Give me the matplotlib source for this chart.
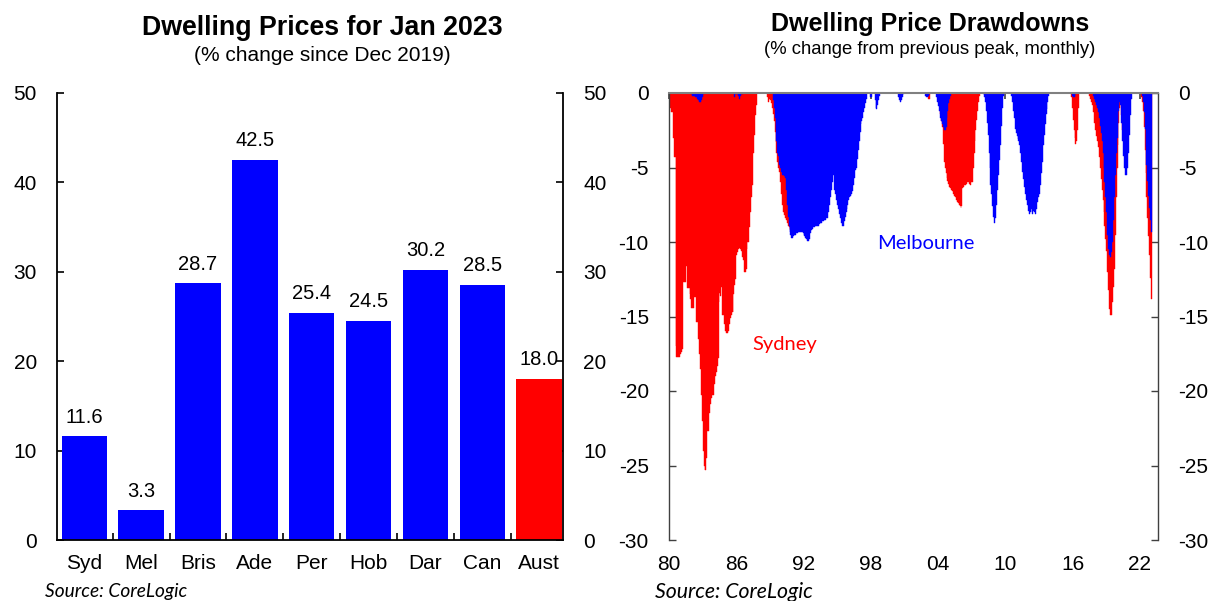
import numpy as np
import matplotlib
matplotlib.use("Agg")
import matplotlib.pyplot as plt
from matplotlib.ticker import FixedLocator

plt.rcParams["axes.unicode_minus"] = False

# ---------------- Left chart data ----------------
cities = ["Syd", "Mel", "Bris", "Ade", "Per", "Hob", "Dar", "Can", "Aust"]
price_change = [11.6, 3.3, 28.7, 42.5, 25.4, 24.5, 30.2, 28.5, 18.0]
bar_colors = ["#0000FF"] * 8 + ["#FF0000"]

# ---------------- Right chart data (monthly drawdowns, % from previous peak) ----------------
start_year = 1980
sydney_by_year = [
    [-0.5, -1.0, -1.3, -1.3, -3.0, -4.3, -4.3, -17.0, -17.7, -17.7, -17.7, -17.7],   # 1980
    [-17.5, -17.4, -17.2, -12.7, -12.7, -12.7, -11.6, -13.1, -13.1, -13.1, -13.5, -13.8],  # 1981
    [-14.4, -14.4, -14.4, -13.7, -13.7, -15.4, -15.4, -16.5, -17.5, -18.5, -20.3, -22.0],  # 1982
    [-24.0, -25.0, -25.3, -25.3, -24.5, -22.7, -22.7, -21.5, -20.9, -20.5, -20.3, -20.3],  # 1983
    [-19.5, -19.0, -18.7, -18.3, -17.8, -14.0, -13.4, -13.6, -13.0, -14.9, -14.9, -15.5],  # 1984
    [-16.0, -16.1, -16.1, -16.0, -15.5, -15.1, -14.9, -14.7, -14.7, -13.5, -12.9, -12.5],  # 1985
    [-10.9, -10.7, -10.5, -10.4, -10.5, -10.6, -11.0, -11.2, -12.0, -12.0, -11.8, -10.5],  # 1986
    [-10.0, -10.0, -9.0, -8.0, -7.0, -6.2, -4.0, -2.8, -1.5, -0.8, 0, 0],               # 1987
    [0, 0, 0, 0, 0, 0, 0, 0, 0, -0.3, -0.6, -0.4],                                      # 1988
    [-0.5, -0.7, -1.0, -1.4, -1.9, -2.6, -3.3, -4.0, -4.6, -5.0, -5.3, -6.0],           # 1989
    [-6.8, -7.5, -8.0, -8.2, -8.4, -8.5, -8.7, -8.9, -9.0, -9.1, -9.2, -9.3],           # 1990
    [-9.2, -9.0, -8.9, -8.8, -8.7, -8.6, -8.5, -8.4, -8.3, -8.2, -8.1, -8.0],           # 1991
    [-7.9, -7.8, -7.7, -7.6, -7.5, -7.4, -7.3, -7.2, -7.1, -7.0, -6.9, -6.8],           # 1992
    [-6.6, -6.4, -6.2, -6.0, -5.7, -5.4, -5.1, -4.8, -4.5, -4.2, -3.9, -3.6],           # 1993
    [-3.3, -3.0, -2.7, -2.4, -2.1, -1.8, -1.5, -1.2, -0.9, -0.6, -0.3, 0],              # 1994
    [0] * 12,                                                                           # 1995
    [0] * 12,                                                                           # 1996
    [0] * 12,                                                                           # 1997
    [0] * 12,                                                                           # 1998
    [0] * 12,                                                                           # 1999
    [0] * 12,                                                                           # 2000
    [0] * 12,                                                                           # 2001
    [0] * 12,                                                                           # 2002
    [0, -0.4, -0.4, 0, 0, 0, 0, 0, 0, 0, 0, -0.2],                                      # 2003
    [-0.5, -0.9, -1.4, -1.9, -2.3, -3.4, -4.6, -5.0, -5.4, -5.7, -5.9, -6.1],           # 2004
    [-6.3, -6.4, -6.5, -6.6, -6.8, -6.9, -7.0, -7.2, -7.3, -7.4, -7.5, -7.6],           # 2005
    [-7.7, -7.6, -6.4, -6.3, -6.2, -6.2, -6.1, -6.0, -6.0, -6.1, -6.2, -6.0],           # 2006
    [-6.0, -5.0, -4.0, -3.2, -2.5, -1.8, -1.2, -0.6, -0.2, 0, 0, 0],                   # 2007
    [0, 0, -0.3, -0.6, -1.0, -1.6, -2.2, -2.8, -3.4, -3.8, -4.0, -4.0],                # 2008
    [-3.8, -3.4, -2.8, -2.0, -1.2, -0.5, 0, 0, 0, 0, 0, 0],                            # 2009
    [0, 0, 0, 0, 0, 0, 0, 0, 0, 0, -0.3, -0.6],                                         # 2010
    [-0.9, -1.2, -1.5, -1.8, -2.0, -2.3, -2.6, -2.9, -3.2, -3.5, -3.8, -4.0],           # 2011
    [-4.1, -4.2, -4.0, -4.0, -4.2, -4.0, -3.5, -3.0, -2.6, -2.2, -1.6, -1.0],           # 2012
    [-0.6, -0.2, 0, 0, 0, 0, 0, 0, 0, 0, 0, 0],                                         # 2013
    [0] * 12,                                                                           # 2014
    [0, 0, 0, 0, 0, 0, 0, 0, 0, 0, -0.3, -1.0],                                         # 2015
    [-1.8, -2.5, -3.0, -3.4, -3.2, -2.5, -1.0, 0, 0, 0, 0, 0],                          # 2016
    [0, 0, 0, 0, 0, 0, -0.2, -0.4, -0.6, -0.8, -1.3, -2.0],                             # 2017
    [-2.5, -2.9, -3.2, -3.6, -4.3, -5.0, -5.8, -6.5, -7.2, -8.0, -8.9, -9.8],           # 2018
    [-10.6, -12.0, -13.2, -14.5, -14.9, -14.9, -14.0, -13.0, -11.8, -9.5, -7.0, -5.0],  # 2019
    [-3.5, -2.0, -1.0, -0.6, -1.5, -2.5, -3.0, -3.3, -3.3, -3.0, -2.0, -1.0],           # 2020
    [-0.3, 0, 0, 0, 0, 0, 0, 0, 0, 0, 0, 0],                                            # 2021
    [0, -0.3, -0.6, -1.2, -2.3, -3.8, -5.4, -7.0, -8.4, -9.6, -10.9, -12.4],            # 2022
    [-13.8],                                                                            # 2023
]
melbourne_by_year = [
    [0] * 12,                                                                           # 1980
    [0] * 12,                                                                           # 1981
    [-0.1, -0.2, -0.2, -0.2, -0.3, -0.3, -0.4, -0.5, -0.6, -0.6, -0.5, -0.3],           # 1982
    [-0.1, 0, 0, 0, 0, 0, 0, 0, 0, 0, 0, 0],                                            # 1983
    [0] * 12,                                                                           # 1984
    [0, 0, 0, 0, 0, 0, 0, 0, 0, 0, -0.3, -0.1],                                         # 1985
    [-0.1, -0.1, -0.2, -0.4, -0.2, -0.1, -0.1, 0, 0, 0, 0, 0],                          # 1986
    [0] * 12,                                                                           # 1987
    [0] * 12,                                                                           # 1988
    [0, 0, 0, -0.5, -1.0, -1.7, -2.5, -3.2, -4.0, -4.2, -4.8, -5.0],                    # 1989
    [-5.3, -5.5, -5.5, -5.6, -5.7, -6.5, -7.5, -8.3, -8.9, -9.3, -9.5, -9.7],           # 1990
    [-9.7, -9.6, -9.5, -9.5, -9.4, -9.4, -9.3, -9.3, -9.3, -9.3, -9.3, -9.4],           # 1991
    [-9.5, -9.6, -9.7, -9.8, -9.9, -9.9, -9.8, -9.4, -9.2, -9.1, -9.0, -9.0],           # 1992
    [-8.9, -8.9, -8.9, -8.9, -8.8, -8.8, -8.7, -8.7, -8.6, -8.6, -8.5, -8.5],           # 1993
    [-8.4, -8.4, -8.0, -7.5, -7.0, -6.5, -6.0, -5.5, -5.5, -6.5, -6.8, -7.2],           # 1994
    [-7.5, -7.8, -8.1, -8.4, -8.7, -8.9, -8.9, -8.6, -8.3, -8.0, -7.8, -7.5],           # 1995
    [-7.2, -7.0, -6.9, -6.8, -6.6, -6.2, -5.7, -5.2, -5.0, -4.4, -3.8, -3.2],           # 1996
    [-2.6, -2.1, -1.9, -1.7, -1.3, -1.0, -0.7, -0.4, 0, 0, 0, -0.3],                    # 1997
    [-0.3, 0, 0, 0, -0.5, -1.0, -1.1, -0.8, -0.5, -0.2, 0, 0],                          # 1998
    [0] * 12,                                                                           # 1999
    [0, 0, 0, 0, 0, -0.3, -0.5, -0.6, -0.5, -0.3, -0.1, 0],                             # 2000
    [0] * 12,                                                                           # 2001
    [0, 0, 0, 0, 0, 0, 0, 0, 0, 0, -0.2, -0.3],                                         # 2002
    [-0.3, -0.2, -0.1, 0, 0, 0, 0, 0, 0, 0, -0.3, -0.6],                                # 2003
    [-0.9, -1.2, -1.7, -1.9, -2.1, -2.3, -2.5, -2.5, -2.3, -1.7, -1.2, -0.7],           # 2004
    [-0.4, -0.2, 0, 0, 0, 0, 0, 0, 0, 0, 0, 0],                                         # 2005
    [0] * 12,                                                                           # 2006
    [0] * 12,                                                                           # 2007
    [-0.1, -0.3, -0.6, -1.2, -2.0, -2.8, -4.0, -5.0, -6.2, -6.8, -7.6, -8.3],           # 2008
    [-8.7, -8.4, -7.5, -6.5, -5.5, -4.5, -3.5, -2.2, -1.0, -0.2, 0, 0],                 # 2009
    [0, 0, 0, 0, 0, 0, -0.2, -0.6, -1.2, -1.7, -2.4, -2.7],                             # 2010
    [-2.9, -3.1, -3.2, -3.5, -4.0, -4.6, -5.3, -5.8, -6.3, -6.8, -7.2, -7.5],           # 2011
    [-7.9, -8.1, -8.0, -7.8, -8.0, -8.1, -7.9, -8.0, -8.1, -7.8, -7.3, -7.0],           # 2012
    [-6.8, -6.2, -5.4, -4.6, -3.5, -2.8, -2.1, -1.4, -1.1, -0.6, -0.2, 0],              # 2013
    [0] * 12,                                                                           # 2014
    [0, 0, 0, 0, 0, 0, 0, 0, 0, 0, 0, -0.2],                                            # 2015
    [-0.3, -0.3, -0.2, 0, 0, 0, 0, 0, 0, 0, 0, 0],                                      # 2016
    [0, 0, 0, 0, 0, 0, 0, 0, 0, 0, -0.2, -0.4],                                         # 2017
    [-0.6, -0.8, -1.0, -1.3, -1.7, -2.2, -2.7, -3.2, -4.0, -5.0, -6.0, -7.0],           # 2018
    [-8.0, -9.5, -10.5, -10.9, -11.0, -10.7, -10.0, -8.5, -7.0, -5.5, -4.0, -3.0],      # 2019
    [-2.0, -1.2, -0.6, -0.8, -2.0, -3.2, -4.2, -5.0, -5.5, -5.5, -5.0, -4.0],           # 2020
    [-2.8, -1.5, -0.4, 0, 0, 0, 0, 0, 0, 0, 0, 0],                                      # 2021
    [0, 0, -0.2, -0.6, -1.3, -2.4, -3.6, -4.8, -5.9, -6.9, -7.7, -8.5],                 # 2022
    [-9.3],                                                                             # 2023
]
year_ticks = [1980, 1986, 1992, 1998, 2004, 2010, 2016, 2022]
year_tick_labels = ["80", "86", "92", "98", "04", "10", "16", "22"]

sydney = np.array([v for yr in sydney_by_year for v in yr])
melbourne = np.array([v for yr in melbourne_by_year for v in yr])
months = start_year + np.arange(len(sydney)) / 12.0

BLUE = "#0000FF"
RED = "#FF0000"
FONT = "Liberation Sans"
CAL = "Lato"

fig = plt.figure(figsize=(12.2, 6.01), dpi=100)

# ---------------- Left chart ----------------
ax1 = fig.add_axes([57 / 1220, 1 - 540 / 601, (563 - 57) / 1220, (540 - 93) / 601])
x = np.arange(len(cities))
ax1.bar(x, price_change, width=0.8, color=bar_colors, linewidth=0, zorder=2)
for xi, v in zip(x, price_change):
    ax1.annotate(f"{v:.1f}", (xi, v), xytext=(0, 7), textcoords="offset points",
                 ha="center", va="bottom", fontsize=14.5, family=FONT)
ax1.set_xlim(-0.48, 8.42)
ax1.set_ylim(0, 50)
ax1.set_yticks(range(0, 51, 10))
ax1.set_xticks(x)
ax1.set_xticklabels(cities, family=FONT, fontsize=15)
ax1.xaxis.set_minor_locator(FixedLocator(np.arange(0.5, 8.0, 1.0)))
ax1.tick_params(axis="x", which="major", length=0, pad=10)
ax1.tick_params(axis="x", which="minor", direction="in", length=5, width=1.2, bottom=True)
ax1.tick_params(axis="y", direction="in", length=5, width=1.2, left=True, right=True,
                labelleft=True, labelright=True, labelsize=15, pad=14.5)
for lab in ax1.get_yticklabels():
    lab.set_family(FONT)
ax1.spines["top"].set_visible(False)
for s in ["left", "right", "bottom"]:
    ax1.spines[s].set_linewidth(1.3)

fig.text(0.264, 0.953, "Dwelling Prices for Jan 2023", ha="center", va="center",
         fontsize=19.3, fontweight="bold", family=FONT)
fig.text(0.264, 0.908, "(% change since Dec 2019)", ha="center", va="center",
         fontsize=15, family=FONT)
fig.text(45 / 1220, 1 - 592 / 601, "Source: CoreLogic", ha="left", va="center",
         fontsize=13.8, style="italic", family=CAL)

# ---------------- Right chart ----------------
ax2 = fig.add_axes([669 / 1220, 1 - 540 / 601, (1158 - 669) / 1220, (540 - 93) / 601])
ax2.bar(months, sydney, width=1 / 12, align="edge", color=RED, edgecolor=RED,
        linewidth=0.3, zorder=2)
ax2.bar(months, melbourne, width=1 / 12, align="edge", color=BLUE, edgecolor=BLUE,
        linewidth=0.3, zorder=3)
ax2.set_xlim(1980, 2023.61)
ax2.set_ylim(-30, 0)
ax2.set_yticks(range(-30, 1, 5))
ax2.set_xticks(year_ticks)
ax2.set_xticklabels(year_tick_labels, family=FONT, fontsize=15)
ax2.tick_params(axis="x", top=True, bottom=False, labeltop=False, labelbottom=True,
                direction="in", length=4, width=1.2, color="#404040", pad=11)
ax2.tick_params(axis="y", direction="in", length=5, width=1.0, left=True, right=True,
                labelleft=True, labelright=True, labelsize=15, pad=14.5, color="#404040")
for lab in ax2.get_yticklabels():
    lab.set_family(FONT)
ax2.spines["bottom"].set_visible(False)
ax2.spines["top"].set_color("#808080")
ax2.spines["top"].set_linewidth(1.5)
ax2.spines["top"].set_zorder(5)
for s in ["left", "right"]:
    ax2.spines[s].set_color("#404040")
    ax2.spines[s].set_linewidth(1.0)

ax2.text(1998.6, -10.1, "Melbourne", color=BLUE, fontsize=14.5, family=CAL,
         ha="left", va="center")
ax2.text(1987.4, -16.9, "Sydney", color=RED, fontsize=14.5, family=CAL,
         ha="left", va="center")

fig.text(0.762, 0.960, "Dwelling Price Drawdowns", ha="center", va="center",
         fontsize=18, fontweight="bold", family=FONT)
fig.text(0.762, 0.917, "(% change from previous peak, monthly)", ha="center", va="center",
         fontsize=13.3, family=FONT)
fig.text(655 / 1220, 1 - 592 / 601, "Source: CoreLogic", ha="left", va="center",
         fontsize=15.3, style="italic", family=CAL)

fig.savefig("out.png", dpi=100)
